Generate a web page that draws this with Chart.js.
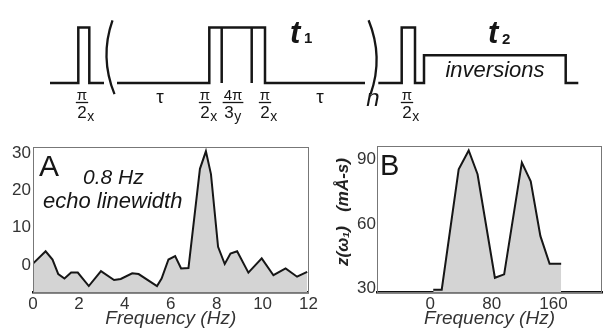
<!DOCTYPE html>
<html>
<head>
<meta charset="utf-8">
<script src="https://cdn.jsdelivr.net/npm/chart.js@4/dist/chart.umd.min.js"></script>
<style>
  body { margin: 0; background: #fff; width: 603px; height: 333px; position: relative; overflow: hidden; }
  canvas { position: absolute; }
  #seq { left: 0; top: 0; }
  #chartA { left: 0; top: 135px; }
  #chartB { left: 320px; top: 135px; }
</style>
</head>
<body>
<canvas id="seq" width="603" height="135"></canvas>
<canvas id="chartA" width="320" height="198"></canvas>
<canvas id="chartB" width="283" height="198"></canvas>
<script>
// panel A: echo spectrum
const freqA = [0, 0.55, 0.85, 1.1, 1.37, 1.66, 1.95, 2.43, 2.96, 3.53, 3.82, 4.32, 4.6, 5.4, 5.6, 5.9,
               6.19, 6.45, 6.77, 7.27, 7.53, 7.75, 8.06, 8.35, 8.6, 8.89, 9.38, 9.96, 10.47, 11.0, 11.5, 11.94];
const echoA = [0.4, 3.7, 1.5, -2.4, -3.6, -2, -2, -5.6, -1.6, -4, -3.7, -2.2, -2.4, -5.6, -3.6, 1.5,
               2.4, -0.9, -0.8, 25.8, 30.5, 24.4, 4.9, 0.3, 3.1, 3.7, -2, 1.8, -2.7, -0.9, -3.1, -1.8];
const ticksAx = [0, 2, 4, 6, 8, 10, 12];
const ticksAy = [0, 10, 20, 30];

// panel B: z(w1)
const freqB = [4, 15, 37, 50, 61.5, 84, 96, 119, 130.5, 143, 155, 170];
const zB = [29.5, 29.5, 85.3, 94, 83, 35, 36.6, 88.4, 79.7, 54.4, 41.5, 41.5];
const ticksBx = [0, 80, 160];
const ticksBy = [30, 60, 90];

// pulse sequence: time and rf level (1 = hard pulse, 0.5 = inversion train, null = break)
const seqT =     [50, 78.3, 78.3, 89.3, 89.3, 104, 104,
                  117, 209.3, 209.3, 265, 265, 365, 365,
                  221.7, 221.7, 221.7, 251.7, 251.7, 251.7,
                  378.3, 401.7, 401.7, 415, 415, 424, 424, 565.7, 565.7, 578.3];
const seqLevel = [0, 0, 1, 1, 0, 0, null,
                  0, 0, 1, 1, 0, 0, null,
                  0, 1, null, 0, 1, null,
                  0, 0, 1, 1, 0, 0, 0.5, 0.5, 0, 0];
const pulseLabelT = [82, 205, 233, 265, 407];
const pulseNum = ['π', 'π', '4π', 'π', 'π'];
const pulseDen = ['2', '2', '3', '2', '2'];
const pulseSub = ['x', 'x', 'y', 'x', 'x'];
const delayT = [160, 320];

Chart.defaults.font.family = '"Liberation Sans", Arial, sans-serif';
Chart.defaults.color = '#333';

const ink = '#161616';

const seqPlugin = {
  id: 'seqText',
  afterDatasetsDraw(chart) {
    const ctx = chart.ctx, x = chart.scales.x, y = chart.scales.y;
    ctx.save();
    ctx.fillStyle = ink;
    ctx.strokeStyle = ink;
    ctx.textAlign = 'center';
    ctx.textBaseline = 'alphabetic';
    const base = y.getPixelForValue(0);
    pulseLabelT.forEach((t, i) => {
      const cx = x.getPixelForValue(t);
      ctx.font = '15px "Liberation Sans", Arial';
      ctx.textAlign = 'center';
      ctx.fillText(pulseNum[i], cx, base + 17);
      const w = ctx.measureText(pulseNum[i]).width;
      ctx.lineWidth = 1.3;
      ctx.beginPath();
      ctx.moveTo(cx - w / 2 - 1, base + 19.5);
      ctx.lineTo(cx + w / 2 + 1, base + 19.5);
      ctx.stroke();
      ctx.font = '17px "Liberation Sans", Arial';
      const dx = pulseNum[i].length > 1 ? -4 : 0;
      ctx.fillText(pulseDen[i], cx + dx, base + 35);
      const dw = ctx.measureText(pulseDen[i]).width;
      ctx.font = '14px "Liberation Sans", Arial';
      ctx.textAlign = 'left';
      ctx.fillText(pulseSub[i], cx + dx + dw / 2 + 0.5, base + 38);
    });
    ctx.textAlign = 'center';
    ctx.font = '19px "Liberation Sans", Arial';
    delayT.forEach(t => ctx.fillText('τ', x.getPixelForValue(t), base + 20));
    ctx.font = 'italic 24px "Liberation Sans", Arial';
    ctx.fillText('n', x.getPixelForValue(373), base + 23);

    // brackets around the repeated block
    ctx.lineWidth = 2.3;
    const top = y.getPixelForValue(1.13), bot = y.getPixelForValue(-0.2), mid = (top + bot) / 2;
    const o = x.getPixelForValue(110.5), c = x.getPixelForValue(371.6);
    ctx.beginPath();
    ctx.moveTo(o + 2, top); ctx.quadraticCurveTo(o - 11, mid, o + 4, bot); ctx.stroke();
    ctx.beginPath();
    ctx.moveTo(c - 3, top); ctx.quadraticCurveTo(c + 12, mid, c - 1, bot); ctx.stroke();

    // evolution periods
    ctx.textAlign = 'left';
    ctx.font = 'italic bold 31px "Liberation Sans", Arial';
    ctx.fillText('t', x.getPixelForValue(290), 43);
    ctx.fillText('t', x.getPixelForValue(488), 43);
    ctx.font = 'bold 15px "Liberation Sans", Arial';
    ctx.fillText('1', x.getPixelForValue(304), 43);
    ctx.fillText('2', x.getPixelForValue(502), 44);
    ctx.textAlign = 'center';
    ctx.font = 'italic 22px "Liberation Sans", Arial';
    ctx.fillText('inversions', x.getPixelForValue(495), 77);
    ctx.restore();
  }
};

new Chart(document.getElementById('seq'), {
  type: 'line',
  data: {
    datasets: [{
      data: seqT.map((t, i) => ({ x: t, y: seqLevel[i] })),
      borderColor: ink,
      borderWidth: 2.5,
      pointRadius: 0,
      tension: 0,
      spanGaps: false,
      clip: false,
      fill: false
    }]
  },
  options: {
    responsive: false,
    animation: false,
    layout: { padding: { left: 0, right: 0, top: 27.5, bottom: 52 } },
    plugins: { legend: { display: false }, tooltip: { enabled: false } },
    scales: {
      x: { type: 'linear', min: 0, max: 603, display: false },
      y: { type: 'linear', min: 0, max: 1, display: false }
    }
  },
  plugins: [seqPlugin]
});

function framePlugin(drawText) {
  return {
    id: 'frame',
    afterDatasetsDraw(chart) {
      const ctx = chart.ctx, a = chart.chartArea;
      ctx.save();
      ctx.strokeStyle = '#777';
      ctx.lineWidth = 1;
      ctx.strokeRect(Math.round(a.left) + 0.5, Math.round(a.top) + 0.5,
                     Math.round(a.right - a.left) - 1, Math.round(a.bottom - a.top));
      ctx.fillStyle = ink;
      drawText(ctx, a);
      ctx.restore();
    }
  };
}

function axisX(min, max, ticks) {
  return {
    type: 'linear', min: min, max: max, z: 1,
    afterBuildTicks: s => { s.ticks = ticks.map(v => ({ value: v })); },
    afterFit: s => { s.height = 41; },
    grid: { display: false, drawTicks: false },
    border: { display: true, color: '#111', width: 2.5 },
    ticks: { font: { size: 17 }, padding: 2, color: '#333', maxRotation: 0 },
    title: { display: true, text: 'Frequency (Hz)', color: '#333',
             font: { size: 19, style: 'italic' }, padding: { top: 0, bottom: 3 } }
  };
}

new Chart(document.getElementById('chartA'), {
  type: 'line',
  data: {
    datasets: [{
      data: freqA.map((f, i) => ({ x: f, y: echoA[i] })),
      borderColor: ink,
      borderWidth: 2,
      backgroundColor: '#d4d4d4',
      fill: 'start',
      pointRadius: 0,
      tension: 0
    }]
  },
  options: {
    responsive: false,
    animation: false,
    layout: { padding: { left: 0, right: 9, top: 11, bottom: 0 } },
    plugins: { legend: { display: false }, tooltip: { enabled: false } },
    scales: {
      x: axisX(0, 12, ticksAx),
      y: {
        type: 'linear', min: -7.2, max: 31.6,
        afterBuildTicks: s => { s.ticks = ticksAy.map(v => ({ value: v })); },
        afterFit: s => { s.width = 33; },
        grid: { display: false, drawTicks: false },
        border: { display: false },
        ticks: { font: { size: 17 }, padding: 2, color: '#333' }
      }
    }
  },
  plugins: [framePlugin((ctx, a) => {
    ctx.textAlign = 'left';
    ctx.font = '30px "Liberation Sans", Arial';
    ctx.fillText('A', a.left + 6, a.top + 29);
    ctx.font = 'italic 21px "Liberation Sans", Arial';
    ctx.fillText('0.8 Hz', a.left + 50, a.top + 37);
    ctx.font = 'italic 22px "Liberation Sans", Arial';
    ctx.fillText('echo linewidth', a.left + 10, a.top + 61);
  })]
});

new Chart(document.getElementById('chartB'), {
  type: 'line',
  data: {
    datasets: [{
      data: freqB.map((f, i) => ({ x: f, y: zB[i] })),
      borderColor: ink,
      borderWidth: 2,
      backgroundColor: '#d4d4d4',
      fill: 'start',
      pointRadius: 0,
      tension: 0
    }]
  },
  options: {
    responsive: false,
    animation: false,
    layout: { padding: { left: 0, right: 1, top: 11, bottom: 0 } },
    plugins: { legend: { display: false }, tooltip: { enabled: false } },
    scales: {
      x: axisX(-69, 223, ticksBx),
      y: {
        type: 'linear', min: 28.4, max: 96,
        afterBuildTicks: s => { s.ticks = ticksBy.map(v => ({ value: v })); },
        afterFit: s => { s.width = 57; },
        grid: { display: false, drawTicks: false },
        border: { display: false },
        ticks: { font: { size: 17 }, padding: 1, color: '#333' },
        title: { display: true, text: '   z(ω₁)   (mÅ-s)', color: '#222',
                 font: { size: 17, style: 'italic', weight: 'bold' }, padding: { top: 13, bottom: 0 } }
      }
    }
  },
  plugins: [framePlugin((ctx, a) => {
    ctx.textAlign = 'left';
    ctx.font = '29px "Liberation Sans", Arial';
    ctx.fillText('B', a.left + 3, a.top + 29);
  })]
});
</script>
</body>
</html>
